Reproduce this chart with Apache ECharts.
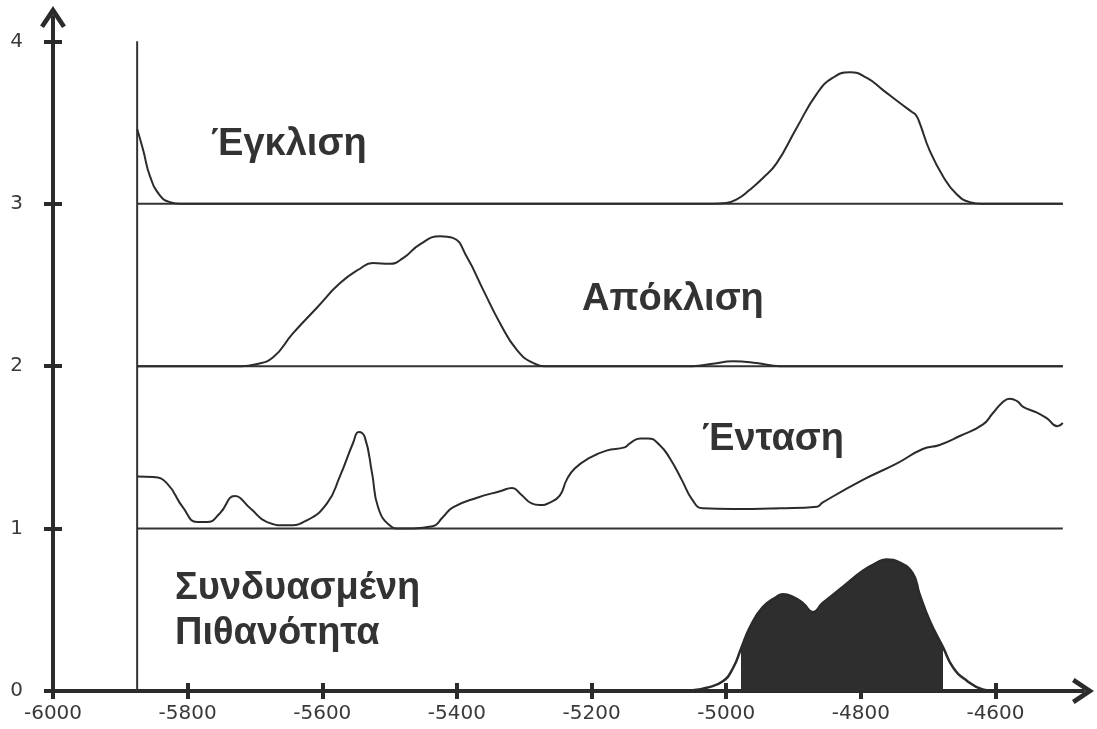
<!DOCTYPE html>
<html>
<head>
<meta charset="utf-8">
<script src="https://cdn.jsdelivr.net/npm/echarts@6/dist/echarts.min.js"></script>
<style>
  html, body { margin: 0; padding: 0; background: #ffffff; }
  #chart { width: 1097px; height: 729px; }
</style>
</head>
<body>
<div id="chart"></div>
<script>
// ---- data ----
const xTickValues = [-6000, -5800, -5600, -5400, -5200, -5000, -4800, -4600];
const yTickValues = [0, 1, 2, 3, 4];

const curveLabels = ['Έγκλιση', 'Απόκλιση', 'Ένταση', 'Συνδυασμένη', 'Πιθανότητα'];

// frame of the stacked panels
const frameX = -5875;
const frameEnd = -4500;
const frameTop = 4;
const baselineLevels = [1, 2, 3];

// Έγκλιση (inclination), panel baseline 3
const inclination = [
  [-5875, 3.46], [-5866, 3.33], [-5856, 3.17], [-5841, 3.05], [-5826, 3.01], [-5810, 3.0],
  [-5020, 3.0], [-5000, 3.005], [-4985, 3.025], [-4965, 3.086], [-4945, 3.16], [-4925, 3.25],
  [-4895, 3.47], [-4865, 3.68], [-4842, 3.775], [-4816, 3.81], [-4791, 3.775], [-4767, 3.70],
  [-4742, 3.62], [-4724, 3.565], [-4718, 3.545], [-4712, 3.49], [-4698, 3.33], [-4678, 3.17],
  [-4658, 3.06], [-4638, 3.01], [-4620, 3.0], [-4500, 3.0]
];

// Απόκλιση (declination), panel baseline 2
const declination = [
  [-5875, 2.0], [-5720, 2.0], [-5700, 2.01], [-5673, 2.055], [-5644, 2.2], [-5608, 2.36],
  [-5574, 2.51], [-5544, 2.60], [-5525, 2.635], [-5500, 2.63], [-5480, 2.665], [-5455, 2.75],
  [-5425, 2.80], [-5406, 2.79], [-5385, 2.67], [-5361, 2.47], [-5336, 2.265], [-5311, 2.10],
  [-5287, 2.02], [-5265, 2.0], [-5050, 2.0], [-5020, 2.015], [-4990, 2.03], [-4955, 2.02],
  [-4920, 2.0], [-4500, 2.0]
];

// Ένταση (intensity), panel baseline 1
const intensity = [
  [-5875, 1.32], [-5851, 1.317], [-5831, 1.28], [-5807, 1.13], [-5786, 1.04], [-5771, 1.04],
  [-5752, 1.095], [-5730, 1.20], [-5707, 1.125], [-5682, 1.04], [-5653, 1.02], [-5623, 1.05],
  [-5593, 1.155], [-5574, 1.32], [-5554, 1.53], [-5546, 1.595], [-5537, 1.565], [-5526, 1.34],
  [-5517, 1.13], [-5500, 1.02], [-5485, 1.0], [-5436, 1.015], [-5421, 1.07], [-5406, 1.13],
  [-5370, 1.19], [-5336, 1.23], [-5318, 1.25], [-5306, 1.215], [-5289, 1.155], [-5277, 1.145],
  [-5262, 1.16], [-5247, 1.205], [-5237, 1.30], [-5225, 1.37], [-5203, 1.435], [-5178, 1.48],
  [-5151, 1.50], [-5143, 1.525], [-5128, 1.555], [-5116, 1.555], [-5099, 1.515], [-5084, 1.435],
  [-5066, 1.30], [-5050, 1.175], [-5035, 1.125], [-4990, 1.12], [-4920, 1.125], [-4865, 1.135],
  [-4857, 1.16], [-4797, 1.30], [-4747, 1.40], [-4708, 1.49], [-4683, 1.515], [-4653, 1.57],
  [-4619, 1.64], [-4604, 1.71], [-4589, 1.78], [-4579, 1.80], [-4568, 1.785], [-4559, 1.75],
  [-4539, 1.715], [-4524, 1.68], [-4508, 1.63], [-4500, 1.65]
];

// Συνδυασμένη Πιθανότητα (combined probability), baseline 0
const combined = [
  [-5080, 0.0], [-5050, 0.005], [-5029, 0.02], [-5005, 0.06], [-4990, 0.14], [-4978, 0.26],
  [-4965, 0.39], [-4946, 0.515], [-4925, 0.58], [-4916, 0.595], [-4901, 0.58], [-4886, 0.54],
  [-4871, 0.485], [-4857, 0.54], [-4827, 0.64], [-4797, 0.74], [-4776, 0.79], [-4762, 0.81],
  [-4742, 0.79], [-4723, 0.725], [-4713, 0.60], [-4698, 0.435], [-4678, 0.27], [-4663, 0.145],
  [-4643, 0.065], [-4619, 0.01], [-4600, 0.0]
];
// shaded confidence range of the combined probability
const rangeStart = -4978;
const rangeEnd = -4678;

// ---- build ----
const ink = '#2b2b2b';
const curveSmooth = 0.5;
const combinedRange = combined.filter(p => p[0] >= rangeStart && p[0] <= rangeEnd);

const frameSeries = [
  { data: [[frameX, 0], [frameX, frameTop]] }
].concat(baselineLevels.map(b => ({ data: [[frameX, b], [frameEnd, b]] })));

const chevron = 'path://M10,0 L20,15 L17,17 L10,6.5 L3,17 L0,15 Z';
const plainLabel = v => String(v);
const labelFont = 'bold 38px "Liberation Sans", Arial, sans-serif';

const baseX = {
  type: 'value', min: -6000, max: -4470, gridIndex: 0,
  splitLine: { show: false }
};
const baseY = {
  type: 'value', min: 0, max: 4.15, gridIndex: 0,
  splitLine: { show: false }
};

const option = {
  backgroundColor: '#ffffff',
  animation: false,
  grid: { left: 53, right: 14, top: 17, bottom: 38, containLabel: false },
  xAxis: [
    Object.assign({}, baseX, {
      position: 'bottom',
      axisLine: { show: true, onZero: false, lineStyle: { color: ink, width: 4 },
                  symbol: ['none', chevron], symbolSize: [26, 22] },
      axisTick: { show: true, length: 8, inside: false, customValues: xTickValues,
                  lineStyle: { color: ink, width: 4 } },
      axisLabel: { show: true, customValues: xTickValues, margin: 13, formatter: plainLabel,
                   fontFamily: 'DejaVu Sans', fontSize: 20, color: '#3a3a3a' }
    }),
    Object.assign({}, baseX, {
      position: 'bottom',
      axisLine: { show: false, onZero: false },
      axisTick: { show: true, length: 8, inside: true, customValues: xTickValues,
                  lineStyle: { color: ink, width: 4 } },
      axisLabel: { show: false }
    })
  ],
  yAxis: [
    Object.assign({}, baseY, {
      position: 'left',
      axisLine: { show: true, onZero: false, lineStyle: { color: ink, width: 4 },
                  symbol: ['none', chevron], symbolSize: [26, 22] },
      axisTick: { show: true, length: 9, inside: false, customValues: yTickValues,
                  lineStyle: { color: ink, width: 4 } },
      axisLabel: { show: true, customValues: yTickValues, margin: 30, align: 'right',
                   formatter: plainLabel,
                   fontFamily: 'DejaVu Sans', fontSize: 20, color: '#3a3a3a' }
    }),
    Object.assign({}, baseY, {
      position: 'left',
      axisLine: { show: false, onZero: false },
      axisTick: { show: true, length: 9, inside: true, customValues: yTickValues,
                  lineStyle: { color: ink, width: 4 } },
      axisLabel: { show: false }
    })
  ],
  series: [].concat(
    frameSeries.map(s => ({
      type: 'line', data: s.data, symbol: 'none', silent: true,
      lineStyle: { color: '#333', width: 2 }, z: 2
    })),
    [
      { name: curveLabels[0], type: 'line', data: inclination, smooth: curveSmooth, symbol: 'none',
        lineStyle: { color: ink, width: 2 }, z: 3 },
      { name: curveLabels[1], type: 'line', data: declination, smooth: curveSmooth, symbol: 'none',
        lineStyle: { color: ink, width: 2 }, z: 3 },
      { name: curveLabels[2], type: 'line', data: intensity, smooth: curveSmooth, symbol: 'none',
        lineStyle: { color: ink, width: 2 }, z: 3 },
      { name: 'range', type: 'line', data: combinedRange, smooth: curveSmooth, symbol: 'none',
        lineStyle: { color: '#2e2e2e', width: 1 },
        areaStyle: { color: '#2e2e2e', opacity: 1, origin: 'start' }, z: 3 },
      { name: curveLabels[3] + ' ' + curveLabels[4], type: 'line', data: combined, smooth: curveSmooth,
        symbol: 'none', lineStyle: { color: ink, width: 2.5 }, z: 4 }
    ]
  ),
  graphic: [
    { type: 'text', left: 211, top: 148 - 22, style: { text: curveLabels[0], font: labelFont, fill: '#333' } },
    { type: 'text', left: 582, top: 303 - 22, style: { text: curveLabels[1], font: labelFont, fill: '#333' } },
    { type: 'text', left: 702, top: 443 - 22, style: { text: curveLabels[2], font: labelFont, fill: '#333' } },
    { type: 'text', left: 175, top: 592 - 22, style: { text: curveLabels[3], font: labelFont, fill: '#333' } },
    { type: 'text', left: 175, top: 637 - 22, style: { text: curveLabels[4], font: labelFont, fill: '#333' } }
  ]
};

const chart = echarts.init(document.getElementById('chart'), null, { renderer: 'canvas' });
chart.setOption(option);
</script>
</body>
</html>
